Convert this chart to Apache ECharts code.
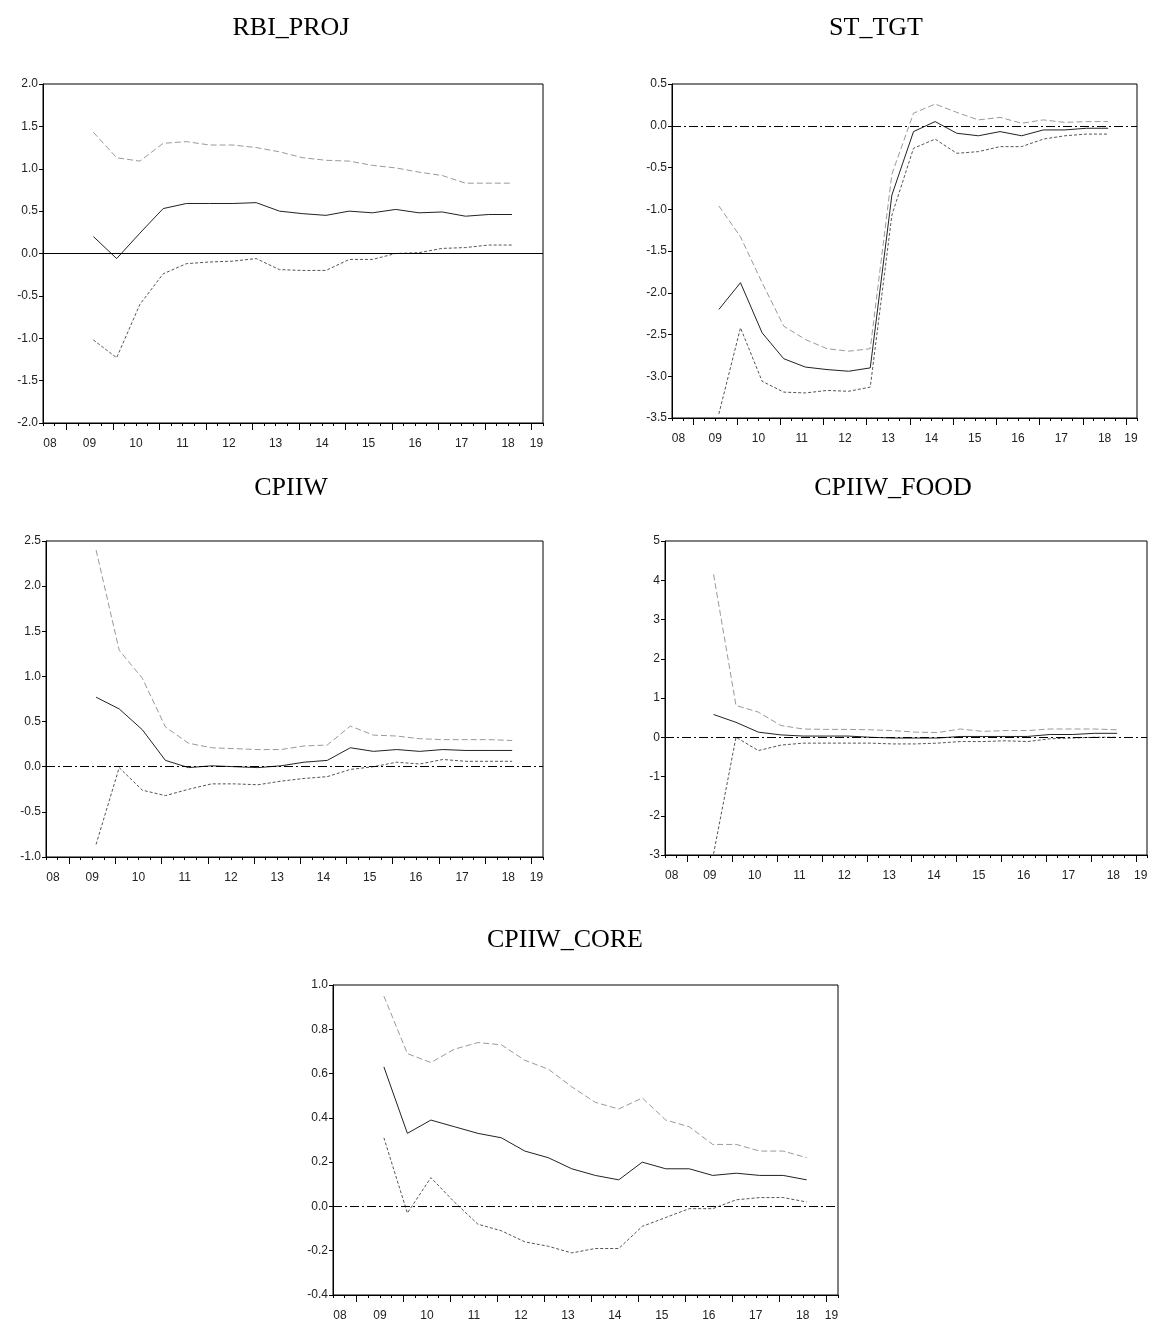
<!DOCTYPE html>
<html>
<head>
<meta charset="utf-8">
<script src="https://cdn.jsdelivr.net/npm/echarts@6/dist/echarts.min.js"></script>
<style>
html, body { margin: 0; padding: 0; background: #fff; }
#main { width: 1159px; height: 1324px; }
</style>
</head>
<body>
<div id="main"></div>
<script>
// observation dates (semi-annual)
var obsDates = ['2009-08','2010-02','2010-08','2011-02','2011-08','2012-02','2012-08','2013-02','2013-08',
  '2014-02','2014-08','2015-02','2015-08','2016-02','2016-08','2017-02','2017-08','2018-02','2018-08']
var years = [2008,2009,2010,2011,2012,2013,2014,2015,2016,2017,2018,2019]
var yearLabels = ['08','09','10','11','12','13','14','15','16','17','18','19']

// RBI_PROJ
var rbiMid = [0.20,-0.06,0.24,0.53,0.59,0.59,0.59,0.60,0.50,0.47,0.45,0.50,0.48,0.52,0.48,0.49,0.44,0.46,0.46]
var rbiUp  = [1.43,1.13,1.09,1.30,1.32,1.28,1.28,1.25,1.20,1.13,1.10,1.09,1.04,1.01,0.96,0.92,0.83,0.83,0.83]
var rbiLow = [-1.02,-1.23,-0.60,-0.24,-0.12,-0.10,-0.09,-0.06,-0.19,-0.20,-0.20,-0.07,-0.07,0.00,0.01,0.06,0.07,0.10,0.10]
// ST_TGT
var stMid = [-2.20,-1.88,-2.48,-2.79,-2.89,-2.92,-2.94,-2.90,-0.83,-0.07,0.05,-0.09,-0.12,-0.07,-0.12,-0.05,-0.05,-0.03,-0.03]
var stUp  = [-0.96,-1.33,-1.88,-2.40,-2.56,-2.67,-2.70,-2.67,-0.58,0.15,0.26,0.16,0.07,0.10,0.03,0.07,0.04,0.05,0.05]
var stLow = [-3.45,-2.42,-3.06,-3.19,-3.20,-3.17,-3.18,-3.13,-1.07,-0.27,-0.16,-0.33,-0.31,-0.25,-0.25,-0.16,-0.12,-0.10,-0.10]
// CPIIW
var cpiMid = [0.77,0.64,0.41,0.07,-0.01,0.01,0.00,-0.01,0.01,0.05,0.07,0.21,0.17,0.19,0.17,0.19,0.18,0.18,0.18]
var cpiUp  = [2.40,1.29,0.98,0.44,0.26,0.21,0.20,0.19,0.19,0.23,0.24,0.45,0.35,0.34,0.31,0.30,0.30,0.30,0.29]
var cpiLow = [-0.86,-0.01,-0.26,-0.32,-0.25,-0.19,-0.19,-0.20,-0.16,-0.13,-0.11,-0.03,0.00,0.05,0.03,0.08,0.06,0.06,0.06]
// CPIIW_FOOD
var foodMid = [0.58,0.38,0.13,0.06,0.03,0.03,0.03,0.00,-0.02,-0.02,-0.02,0.02,0.02,0.02,0.02,0.07,0.07,0.10,0.10]
var foodUp  = [4.15,0.81,0.64,0.30,0.21,0.20,0.20,0.19,0.17,0.13,0.12,0.21,0.15,0.17,0.17,0.21,0.21,0.21,0.19]
var foodLow = [-2.97,0.00,-0.34,-0.20,-0.15,-0.15,-0.15,-0.15,-0.17,-0.17,-0.15,-0.11,-0.11,-0.09,-0.11,-0.04,-0.02,0.00,0.00]
// CPIIW_CORE
var coreMid = [0.63,0.33,0.39,0.36,0.33,0.31,0.25,0.22,0.17,0.14,0.12,0.20,0.17,0.17,0.14,0.15,0.14,0.14,0.12]
var coreUp  = [0.95,0.69,0.65,0.71,0.74,0.73,0.66,0.62,0.54,0.47,0.44,0.49,0.39,0.36,0.28,0.28,0.25,0.25,0.22]
var coreLow = [0.31,-0.03,0.13,0.02,-0.08,-0.11,-0.16,-0.18,-0.21,-0.19,-0.19,-0.09,-0.05,-0.01,-0.01,0.03,0.04,0.04,0.02]

var xMin = 2008.5, xMax = 2019.25

function toYear(s){
  var p = s.split('-')
  return +p[0] + (+p[1] - 1) / 12
}
var xs = obsDates.map(toYear)
function pts(vals){
  return vals.map(function(v, i){ return [xs[i], v] })
}

var quarterTicks = []
for (var q = xMin; q <= xMax + 1e-9; q += 0.25) quarterTicks.push(q)
var yearTicks = years.filter(function(y){ return y > xMin && y < xMax })
var labelPos = years.map(function(y){
  return Math.min(Math.max(y + 0.5, xMin + 0.15), xMax - 0.14)
})

var panels = [
  {name:'RBI_PROJ', mid:rbiMid, up:rbiUp, low:rbiLow, min:-2, max:2, interval:0.5, dec:1, zero:'solid',
    box:{left:43, top:84, width:500, height:339}, title:[291, 28]},
  {name:'ST_TGT', mid:stMid, up:stUp, low:stLow, min:-3.5, max:0.5, interval:0.5, dec:1, zero:'dashdot',
    box:{left:672, top:84, width:465, height:334}, title:[876, 28]},
  {name:'CPIIW', mid:cpiMid, up:cpiUp, low:cpiLow, min:-1, max:2.5, interval:0.5, dec:1, zero:'dashdot',
    box:{left:46, top:541, width:497, height:316}, title:[291, 488]},
  {name:'CPIIW_FOOD', mid:foodMid, up:foodUp, low:foodLow, min:-3, max:5, interval:1, dec:0, zero:'dashdot',
    box:{left:665, top:541, width:482, height:314}, title:[893, 488]},
  {name:'CPIIW_CORE', mid:coreMid, up:coreUp, low:coreLow, min:-0.4, max:1.0, interval:0.2, dec:1, zero:'dashdot',
    box:{left:333, top:985, width:505, height:310}, title:[565, 940]}
]

var grids = [], xAxes = [], yAxes = [], series = [], texts = []
var axisFont = {fontSize:12, color:'#222', fontFamily:'Liberation Sans, Arial, sans-serif'}

panels.forEach(function(p, i){
  grids.push({left:p.box.left, top:p.box.top, width:p.box.width, height:p.box.height,
    show:true, borderColor:'#000', borderWidth:1, backgroundColor:'transparent'})
  xAxes.push({
    gridIndex:i, type:'value', min:xMin, max:xMax,
    axisLine:{show:true, onZero:false, lineStyle:{color:'#000', width:1}},
    splitLine:{show:false},
    axisTick:{show:true, customValues:quarterTicks, length:3, lineStyle:{color:'#000'}},
    axisLabel:Object.assign({customValues:labelPos, margin:15, formatter:function(v){
      return yearLabels[Math.floor(v + 1e-6) - years[0]]
    }}, axisFont)
  })
  xAxes.push({
    gridIndex:i, type:'value', min:xMin, max:xMax, position:'bottom',
    axisLine:{show:false, onZero:false}, splitLine:{show:false},
    axisTick:{show:true, customValues:yearTicks, length:7, lineStyle:{color:'#000'}},
    axisLabel:{show:false}
  })
  yAxes.push({
    gridIndex:i, type:'value', min:p.min, max:p.max, interval:p.interval,
    axisLine:{show:true, onZero:false, lineStyle:{color:'#000', width:1}},
    axisTick:{show:true, length:4, lineStyle:{color:'#000'}},
    splitLine:{show:false},
    axisLabel:Object.assign({margin:5, formatter:function(v){ return v.toFixed(p.dec) }}, axisFont)
  })
  series.push({
    type:'line', xAxisIndex:i*2, yAxisIndex:i, data:pts(p.mid), showSymbol:false, z:4,
    lineStyle:{color:'#222', width:1, type:'solid'},
    markLine:{silent:true, symbol:['none','none'], label:{show:false},
      lineStyle:{color:'#000', width:1, type: p.zero == 'solid' ? 'solid' : [9,3,2,3]},
      data:[{yAxis:0}]}
  })
  series.push({
    type:'line', xAxisIndex:i*2, yAxisIndex:i, data:pts(p.up), showSymbol:false, z:3,
    lineStyle:{color:'#9a9a9a', width:1, type:[6,3]}
  })
  series.push({
    type:'line', xAxisIndex:i*2, yAxisIndex:i, data:pts(p.low), showSymbol:false, z:3,
    lineStyle:{color:'#555', width:1, type:[3,2]}
  })
  texts.push({type:'text', x:p.title[0], y:p.title[1],
    style:{text:p.name, fill:'#000', font:'26px "Liberation Serif", "Times New Roman", serif',
      textAlign:'center', textVerticalAlign:'middle'}})
})

var myChart = echarts.init(document.getElementById('main'))
var option = {
  animation:false,
  backgroundColor:'#fff',
  grid:grids,
  xAxis:xAxes,
  yAxis:yAxes,
  series:series,
  graphic:texts
}
myChart.setOption(option)
</script>
</body>
</html>
